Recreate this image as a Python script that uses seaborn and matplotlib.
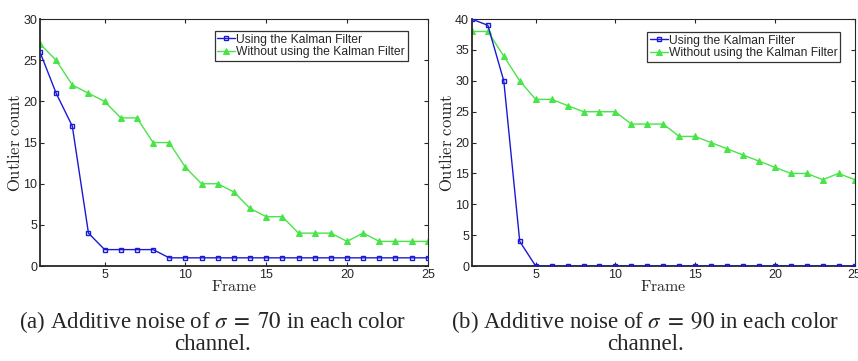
import numpy as np
import pandas as pd
import matplotlib
matplotlib.use("Agg")
import matplotlib.pyplot as plt
import seaborn as sns

# Data
frames = list(range(1, 26))

kalman_70 = [26, 21, 17, 4, 2, 2, 2, 2, 1, 1, 1, 1, 1, 1, 1, 1, 1, 1, 1, 1, 1, 1, 1, 1, 1]
no_kalman_70 = [27, 25, 22, 21, 20, 18, 18, 15, 15, 12, 10, 10, 9, 7, 6, 6, 4, 4, 4, 3, 4, 3, 3, 3, 3]

kalman_90 = [40, 39, 30, 4, 0, 0, 0, 0, 0, 0, 0, 0, 0, 0, 0, 0, 0, 0, 0, 0, 0, 0, 0, 0, 0]
no_kalman_90 = [38, 38, 34, 30, 27, 27, 26, 25, 25, 25, 23, 23, 23, 21, 21, 20, 19, 18, 17, 16, 15, 15, 14, 15, 14]

series_names = ["Using the Kalman Filter", "Without using the Kalman Filter"]
captions = [r"(a) Additive noise of $\sigma\;=\;70$ in each color" + "\nchannel.",
            r"(b) Additive noise of $\sigma\;=\;90$ in each color" + "\nchannel."]
y_tops = [30, 40]

sns.set_style("ticks")
plt.rcParams["font.family"] = ["Liberation Sans", "DejaVu Sans"]

fig = plt.figure(figsize=(8.58, 3.61), dpi=100)
ax_left = fig.add_axes([0.0466, 0.263, 0.452, 0.684])
ax_right = fig.add_axes([0.550, 0.263, 0.446, 0.684])

blue = "#1a1ad6"
green = "#48e448"

panels = [
    (ax_left, kalman_70, no_kalman_70, (0.948, 0.951)),
    (ax_right, kalman_90, no_kalman_90, (0.963, 0.947)),
]

for i, (ax, kal, nokal, leg_pos) in enumerate(panels):
    df = pd.DataFrame({"frame": frames, "kal": kal, "nokal": nokal})
    sns.lineplot(data=df, x="frame", y="kal", ax=ax, color=blue, lw=1.0,
                 marker="s", markersize=3.5, markerfacecolor="none",
                 markeredgecolor=blue, markeredgewidth=1.0,
                 label=series_names[0], zorder=3)
    sns.lineplot(data=df, x="frame", y="nokal", ax=ax, color=green, lw=1.0,
                 marker="^", markersize=4, markerfacecolor=green,
                 markeredgecolor=green, label=series_names[1], zorder=2)

    ax.set_xlim(1, 25)
    ax.set_ylim(0, y_tops[i])
    ax.set_xticks([5, 10, 15, 20, 25])
    ax.set_yticks(np.arange(0, y_tops[i] + 1, 5))
    ax.tick_params(direction="in", top=True, right=True, length=3,
                   width=0.8, labelsize=9, pad=2)
    for side in ["top", "right"]:
        ax.spines[side].set_visible(True)
        ax.spines[side].set_linewidth(0.8)
    for side in ["left", "bottom"]:
        ax.spines[side].set_linewidth(1.3)

    ax.set_xlabel(r"$\mathrm{Frame}$", fontsize=11.5, labelpad=-1,
                  math_fontfamily="cm")
    ax.set_ylabel(r"$\mathrm{Outlier\ count}$", fontsize=12, labelpad=0,
                  math_fontfamily="cm")

    leg = ax.legend(loc="upper right", bbox_to_anchor=leg_pos, fontsize=8.7,
                    frameon=True, fancybox=False, edgecolor="black",
                    borderpad=0.2, labelspacing=0.05, handlelength=1.5,
                    handletextpad=0.1, borderaxespad=0)
    leg.get_frame().set_linewidth(0.9)

for cx, cap in zip([0.248, 0.752], captions):
    fig.text(cx, 0.145, cap, ha="center", va="top", fontsize=16.5,
             family=["Liberation Serif", "DejaVu Serif"],
             math_fontfamily="stix", multialignment="center",
             linespacing=0.98)

fig.savefig("out.png", dpi=100)
